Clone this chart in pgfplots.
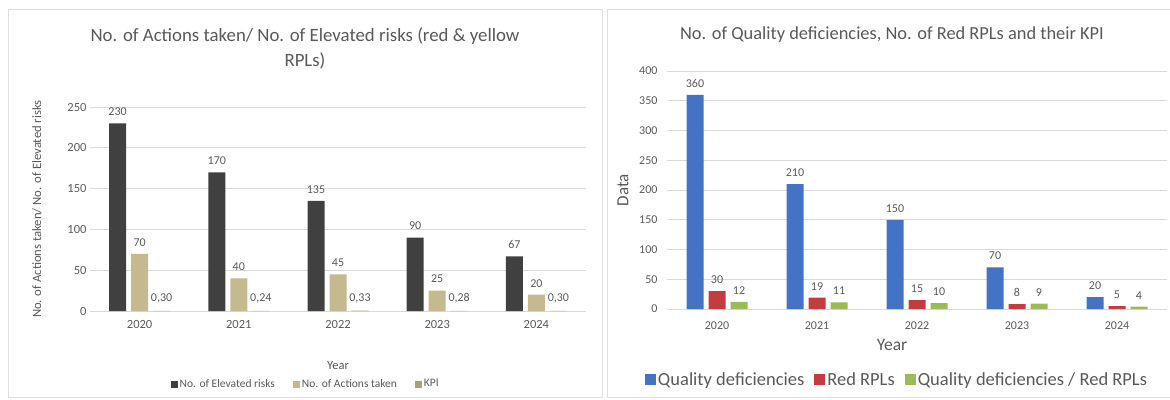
\documentclass[border=0pt]{standalone}
\usepackage{fontspec}
\setmainfont{Carlito}
\usepackage{pgfplots}
\pgfplotsset{compat=1.18}
\usepackage{pgfplotstable}
\definecolor{txt}{HTML}{595959}
\definecolor{gridc}{HTML}{D9D9D9}
\definecolor{dark}{HTML}{404040}
\definecolor{tan}{HTML}{C4B98F}
\definecolor{kpi}{HTML}{A8A27A}
\definecolor{qblue}{HTML}{4472C4}
\definecolor{qred}{HTML}{C43C3F}
\definecolor{qgreen}{HTML}{9BBB59}

\pgfplotstableread{
x y
0 230
1 170
2 135
3 90
4 67
}\elevated
\pgfplotstableread{
x y
0 70
1 40
2 45
3 25
4 20
}\actions
\pgfplotstableread{
x y lab
0 0.30 0,30
1 0.24 0,24
2 0.33 0,33
3 0.28 0,28
4 0.30 0,30
}\kpitab
\pgfplotstableread{
x y
0 360
1 210
2 150
3 70
4 20
}\quality
\pgfplotstableread{
x y
0 30
1 19
2 15
3 8
4 5
}\redrpl
\pgfplotstableread{
x y
0 12
1 11
2 10
3 9
4 4
}\ratio

\pgfplotsset{
  common/.style={
    scale only axis,
    xmin=-0.5, xmax=4.5, ymin=0,
    xtick={0,1,2,3,4},
    xticklabels={2020,2021,2022,2023,2024},
    axis line style={draw=none},
    major tick length=0pt,
    ymajorgrids, grid style={gridc, line width=0.8pt},
    ybar=5pt, bar width=17pt,
    tick label style={txt},
    /pgf/number format/assume math mode=true,
    every axis plot/.append style={draw=none},
    nodes near coords,
    every node near coord/.append style={txt, yshift=4pt},
    legend cell align=left,
    legend style={draw=none, fill=none},
    legend columns=-1,
    legend image code/.code={\fill[##1] (0pt,-3.5pt) rectangle (7pt,3.5pt);},
  }
}

\begin{document}
\begin{tikzpicture}
\path[use as bounding box] (0pt,0pt) rectangle (1170pt,399pt);
\draw[gray!25, line width=1pt] (8pt,2pt) rectangle (602pt,389pt);
\draw[gray!25, line width=1pt] (607pt,2pt) rectangle (1180pt,389pt);

\node[txt, font=\fontsize{18.8}{25}\selectfont, align=center] at (305pt,351pt) {No. of Actions taken/ No. of Elevated risks (red \& yellow\\RPLs)};
\node[txt, font=\fontsize{18.4}{22}\selectfont] at (892pt,364pt) {No. of Quality deficiencies, No. of Red RPLs and their KPI};

\begin{axis}[common,
  at={(90pt,88pt)}, anchor=south west,
  width=496pt, height=204pt,
  ymax=250, ytick={0,50,...,250},
  tick label style={font=\fontsize{12.5}{14}\selectfont},
  xticklabel style={yshift=-6pt},
  every node near coord/.append style={font=\fontsize{12}{14}\selectfont},
  xlabel={Year}, xlabel style={txt, font=\fontsize{12.5}{14}\selectfont, at={(axis description cs:0.5,-0.265)}, anchor=center},
  ylabel={No. of Actions taken/ No. of Elevated risks}, ylabel style={txt, font=\fontsize{12.7}{15}\selectfont, at={(axis description cs:-0.107,0.5)}, anchor=center},
  legend style={at={(axis description cs:0.435,-0.358)}, anchor=center, font=\fontsize{11.5}{13}\selectfont, text=txt, /tikz/every even column/.append style={column sep=16pt}},
]
\addplot[fill=dark] table[x=x,y=y] {\elevated};
\addlegendentry{No. of Elevated risks}
\addplot[fill=tan] table[x=x,y=y] {\actions};
\addlegendentry{No. of Actions taken}
\addplot[fill=kpi, point meta=explicit symbolic, nodes near coords={\pgfplotspointmeta}] table[x=x,y=y,meta=lab] {\kpitab};
\addlegendentry{KPI}
\end{axis}

\begin{axis}[common,
  at={(667pt,90pt)}, anchor=south west,
  width=500pt, height=238pt,
  ymax=400, ytick={0,50,...,400},
  tick label style={font=\fontsize{12}{14}\selectfont},
  yticklabel style={xshift=-6pt},
  xticklabel style={yshift=-9pt},
  every node near coord/.append style={font=\fontsize{12}{14}\selectfont},
  xlabel={Year}, xlabel style={txt, font=\fontsize{17.5}{20}\selectfont, at={(axis description cs:0.45,-0.151)}, anchor=center},
  ylabel={Data}, ylabel style={txt, font=\fontsize{17}{20}\selectfont, at={(axis description cs:-0.088,0.5)}, anchor=center},
  legend style={at={(axis description cs:0.46,-0.298)}, anchor=center, font=\fontsize{18.5}{21}\selectfont, text=txt, /tikz/every even column/.append style={column sep=8pt}},
  legend image code/.code={\fill[#1] (0pt,-5.5pt) rectangle (11pt,5.5pt);},
]
\addplot[fill=qblue] table[x=x,y=y] {\quality};
\addlegendentry{Quality deficiencies}
\addplot[fill=qred] table[x=x,y=y] {\redrpl};
\addlegendentry{Red RPLs}
\addplot[fill=qgreen] table[x=x,y=y] {\ratio};
\addlegendentry{Quality deficiencies / Red RPLs}
\end{axis}
\end{tikzpicture}
\end{document}
